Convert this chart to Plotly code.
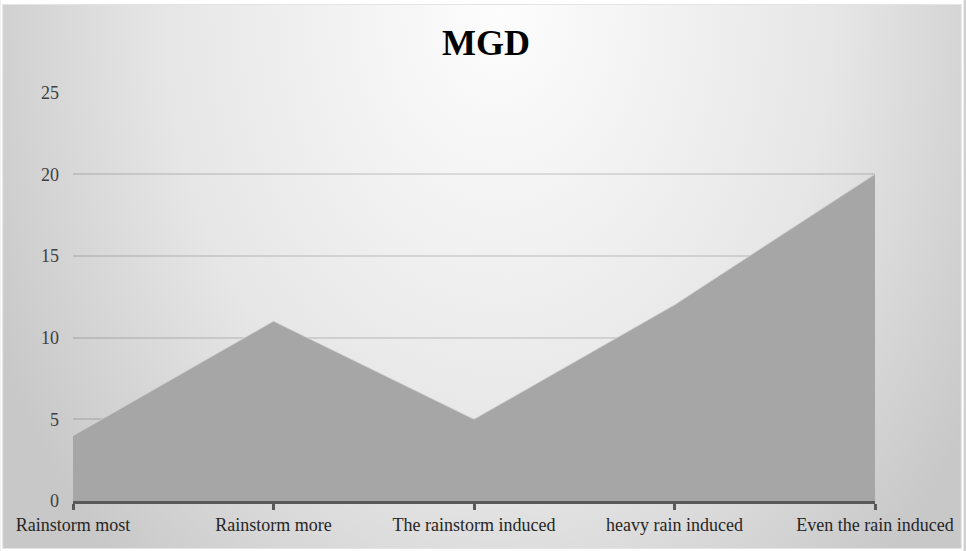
import base64
import plotly.graph_objects as go

# ---- data ----
categories = ["Rainstorm most", "Rainstorm more", "The rainstorm induced",
              "heavy rain induced", "Even the rain induced"]
values = [4, 11, 5, 12, 20]
y_ticks = [0, 5, 10, 15, 20, 25]
title_text = "MGD"

W, H = 966, 551
L, R, T, B = 73, 89, 92, 50
PW, PH = W - L - R, H - T - B

svg = f'''<svg xmlns="http://www.w3.org/2000/svg" width="{W}" height="{H}" viewBox="0 0 {W} {H}">
<defs><radialGradient id="g" gradientUnits="userSpaceOnUse" cx="0" cy="0" r="1"
 gradientTransform="translate(500,10) scale(560,760)">
<stop offset="0" stop-color="#fdfdfd"/><stop offset="0.6" stop-color="#e6e6e6"/>
<stop offset="1" stop-color="#c8c8c8"/></radialGradient></defs>
<rect x="0" y="0" width="{W}" height="{H}" fill="#ffffff"/>
<rect x="2.5" y="4.5" width="{W-5}" height="{H-7}" fill="url(#g)" stroke="#e4e4e4" stroke-width="1"/>
</svg>'''
bg_uri = "data:image/svg+xml;base64," + base64.b64encode(svg.encode()).decode()

fig = go.Figure()
fig.add_trace(go.Scatter(
    x=categories, y=values, mode="lines", fill="tozeroy",
    fillcolor="#a6a6a6", line=dict(color="#cfcfcf", width=0.8),
    hoverinfo="x+y", showlegend=False,
))

fig.update_layout(
    width=W, height=H,
    margin=dict(l=L, r=R, t=T, b=B),
    paper_bgcolor="#d0d0d0",
    plot_bgcolor="rgba(0,0,0,0)",
    font=dict(family="Liberation Serif", size=18, color="#262626"),
    title=dict(text=f"<b>{title_text}</b>", x=486 / W, xanchor="center",
               y=1 - 42 / H, yanchor="middle", yref="container",
               font=dict(family="Liberation Serif", size=36, color="#000000")),
    images=[dict(source=bg_uri, xref="paper", yref="paper",
                 x=-L / PW, y=1 + T / PH, sizex=W / PW, sizey=H / PH,
                 xanchor="left", yanchor="top", sizing="stretch", layer="below")],
    xaxis=dict(type="category", range=[0, len(categories) - 1],
               showgrid=False, zeroline=False,
               showline=True, linecolor="#595959", linewidth=2.5,
               ticks="outside", ticklen=6, tickwidth=2.5, tickcolor="#595959",
               tickfont=dict(family="Liberation Serif", size=18, color="#262626"),
               fixedrange=True),
    yaxis=dict(range=[0, 25.03], tickvals=y_ticks, showgrid=True,
               gridcolor="rgba(0,0,0,0.11)", gridwidth=1.5, zeroline=False,
               showline=False, ticks="", ticklabelstandoff=13,
               tickfont=dict(family="Liberation Serif", size=18, color="#404040"),
               fixedrange=True),
)

fig.write_html("out.html")
